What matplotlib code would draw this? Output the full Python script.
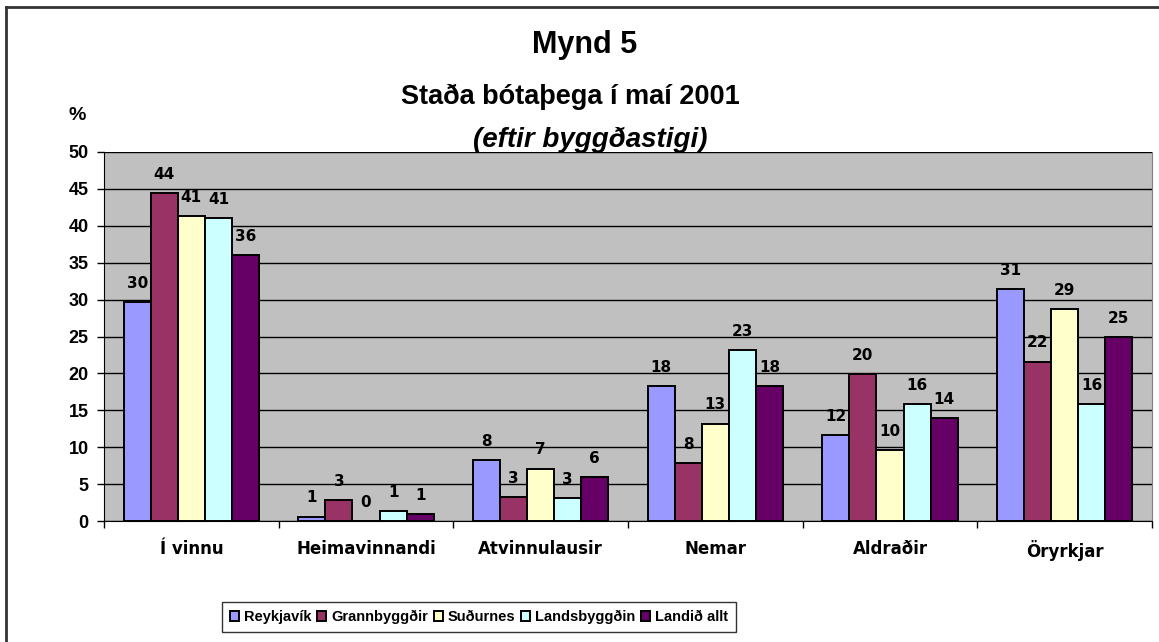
import numpy as np
import matplotlib
matplotlib.use('Agg')
from matplotlib import pyplot as plt
from matplotlib.lines import Line2D

# data (%)
categories = ['Í vinnu', 'Heimavinnandi', 'Atvinnulausir', 'Nemar', 'Aldraðir', 'Öryrkjar']
series = ['Reykjavík', 'Grannbyggðir', 'Suðurnes', 'Landsbyggðin', 'Landið allt']
reykjavik = [29.7, 0.6, 8.2, 18.3, 11.7, 31.4]
grannbyggdir = [44.4, 2.8, 3.3, 7.9, 19.9, 21.6]
sudurnes = [41.3, 0.0, 7.1, 13.2, 9.6, 28.7]
landsbyggdin = [41.1, 1.3, 3.1, 23.2, 15.8, 15.8]
landid_allt = [36.0, 1.0, 5.9, 18.3, 14.0, 24.9]
colors = ['#9999FF', '#993366', '#FFFFCC', '#CCFFFF', '#660066']

values = [reykjavik, grannbyggdir, sudurnes, landsbyggdin, landid_allt]

W, H = 1159, 642
fig = plt.figure(figsize=(W/100, H/100), dpi=100)
fig.patch.set_facecolor('white')

# outer chart border (left/top visible)
fig.add_artist(Line2D([6/W, 6/W], [0, 1-7/H], color='#333333', lw=2, transform=fig.transFigure))
fig.add_artist(Line2D([6/W, 1], [1-7/H, 1-7/H], color='#333333', lw=2, transform=fig.transFigure))

ax = fig.add_axes([104/W, 1-521/H, (1152-104)/W, (521-152)/H])
ax.set_facecolor('#C0C0C0')

x = np.arange(len(categories))
bw = 0.155
for i, (name, vals) in enumerate(zip(series, values)):
    pos = x + (i-2)*bw
    ax.bar(pos, vals, width=bw, color=colors[i], edgecolor='black', linewidth=1.4,
           label=name, zorder=3)
    for xp, v in zip(pos, vals):
        ax.annotate('%d' % round(v), (xp, v), xytext=(0, 8), textcoords='offset points',
                    ha='center', va='bottom', fontsize=11, fontweight='bold',
                    family='DejaVu Sans', zorder=4)

ax.set_xlim(-0.5, 5.5)
ax.set_ylim(0, 50)
ax.set_yticks(range(0, 51, 5))
ax.yaxis.grid(True, color='black', linewidth=1)
ax.set_axisbelow(True)
for t in ax.get_yticklabels():
    t.set_fontweight('bold')
    t.set_family('Liberation Sans')
ax.tick_params(axis='y', labelsize=13, length=5, width=1, pad=6)

ax.set_xticks(np.arange(-0.5, 6, 1))
ax.set_xticklabels([])
ax.tick_params(axis='x', which='major', length=5, width=1)
ax.set_xticks(x, minor=True)
ax.set_xticklabels(categories, minor=True, fontsize=12, fontweight='bold', family='DejaVu Sans')
ax.tick_params(axis='x', which='minor', length=0, pad=14)

ax.spines['top'].set_visible(False)
ax.spines['right'].set_color('#808080')
ax.spines['left'].set_color('black')
ax.spines['bottom'].set_color('black')

fig.text(585/W, 1-45/H, 'Mynd 5', ha='center', va='center', fontsize=22, fontweight='bold',
         family='Liberation Sans')
fig.text(570/W, 1-97/H, 'Staða bótaþega í maí 2001', ha='center', va='center', fontsize=19.5,
         fontweight='bold', family='Liberation Sans')
fig.text(590/W, 1-140/H, '(eftir byggðastigi)', ha='center', va='center', fontsize=20,
         fontweight='bold', style='italic', family='Liberation Sans')
fig.text(77/W, 1-115/H, '%', ha='center', va='center', fontsize=14, fontweight='bold',
         family='Liberation Sans')

leg = fig.legend(loc='center', bbox_to_anchor=(479/W, 1-617/H), ncol=5,
                 prop={'weight': 'bold', 'family': 'Liberation Sans', 'size': 10.5},
                 frameon=True, fancybox=False, handlelength=0.6, handleheight=0.6,
                 handletextpad=0.35, columnspacing=0.4, borderpad=0.55, borderaxespad=0)
leg.get_frame().set_edgecolor('black')
leg.get_frame().set_linewidth(1)

fig.savefig('out.png', dpi=100)
